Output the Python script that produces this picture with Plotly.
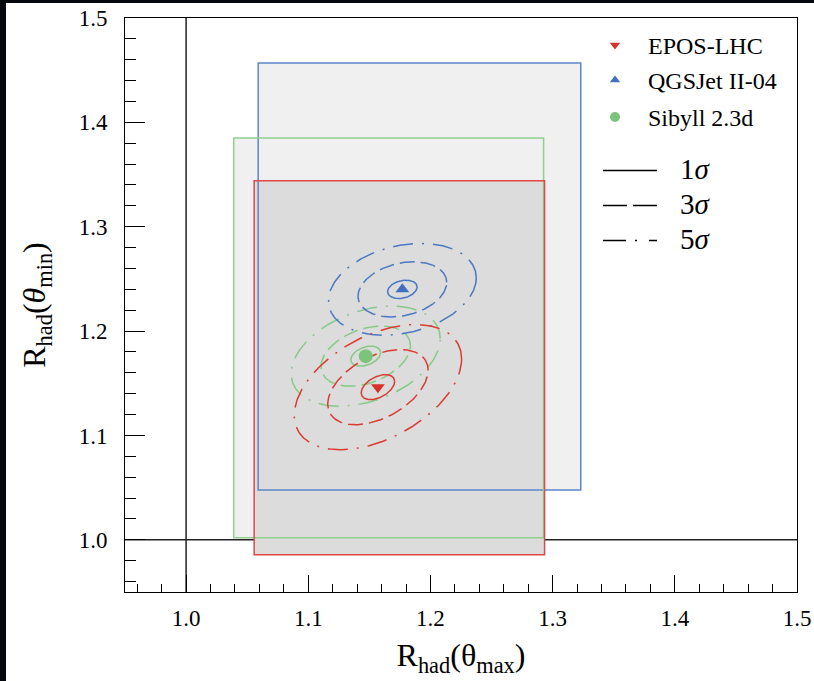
import numpy as np
import plotly.graph_objects as go

# ---------------- data ----------------
models = ["EPOS-LHC", "QGSJet II-04", "Sibyll 2.3d"]
center_x = [1.1570, 1.1770, 1.1470]      # R_had(theta_max) best fit
center_y = [1.1463, 1.2400, 1.1760]      # R_had(theta_min) best fit
sigma_x = [0.0137, 0.0121, 0.0122]       # 1 sigma along x
sigma_y = [0.0120, 0.0088, 0.0096]       # 1 sigma along y
rho = [0.45, 0.25, 0.35]                 # correlation
box_x0 = [1.0557, 1.0590, 1.0390]
box_x1 = [1.2934, 1.3230, 1.2926]
box_y0 = [0.9857, 1.0478, 1.0019]
box_y1 = [1.3440, 1.4570, 1.3850]
sigma_levels = [1, 3, 5]
sigma_labels = ["1<i>σ</i>", "3<i>σ</i>", "5<i>σ</i>"]
tick_vals = [1.0, 1.1, 1.2, 1.3, 1.4, 1.5]
tick_text = ["1.0", "1.1", "1.2", "1.3", "1.4", "1.5"]

# ---------------- styles ----------------
FONT = "Liberation Serif, Times New Roman, serif"
marker_colors = ["#d8302a", "#3f6fbf", "#7cc47c"]
line_colors = ["#dc3a30", "#4a78c2", "#86c986"]
edge_colors = ["#e04848", "#5b86c8", "#8fd08f"]
box_fills = ["#dcdcdc", "#f0f0f0", "#f0f0f0"]
symbols = ["triangle-down", "triangle-up", "circle"]
msizes = [12, 12, 14]
dashes = ["solid", "15px,6px", "20px,9px,2px,9px"]
legend_dashes = ["solid", "24px,6px", "23px,9px,2px,12px"]

fig = go.Figure()

# ---------------- boxes: fills first, then edges ----------------
shapes = []
fill_order = [1, 2, 0]
for i in fill_order:
    shapes.append(dict(type="rect", xref="x", yref="y", layer="below",
                       x0=box_x0[i], x1=box_x1[i], y0=box_y0[i], y1=box_y1[i],
                       fillcolor=box_fills[i], line=dict(width=0)))
for i in fill_order:
    shapes.append(dict(type="rect", xref="x", yref="y", layer="below",
                       x0=box_x0[i], x1=box_x1[i], y0=box_y0[i], y1=box_y1[i],
                       fillcolor="rgba(0,0,0,0)", line=dict(color=edge_colors[i], width=1.5)))
# reference lines at 1.0
shapes.append(dict(type="line", xref="x", yref="paper", x0=1.0, x1=1.0, y0=0, y1=1,
                   layer="below", line=dict(color="#222222", width=1.5)))
shapes.append(dict(type="line", xref="paper", yref="y", x0=0, x1=1, y0=1.0, y1=1.0,
                   layer="below", line=dict(color="#222222", width=1.5)))

# ---------------- contours ----------------
t = np.linspace(0, 2 * np.pi, 361)
for i in [2, 1, 0]:
    for k, d in zip(sigma_levels, dashes):
        ex = center_x[i] + k * sigma_x[i] * np.cos(t)
        ey = center_y[i] + k * sigma_y[i] * (rho[i] * np.cos(t) + np.sqrt(1 - rho[i] ** 2) * np.sin(t))
        fig.add_trace(go.Scatter(x=ex, y=ey, mode="lines", showlegend=False, hoverinfo="skip",
                                 line=dict(color=line_colors[i], width=1.5, dash=d)))

for i in [2, 1, 0]:
    fig.add_trace(go.Scatter(x=[center_x[i]], y=[center_y[i]], mode="markers", name=models[i],
                             showlegend=False,
                             marker=dict(symbol=symbols[i], size=msizes[i], color=marker_colors[i],
                                         line=dict(width=0))))

# ---------------- hand-built legend ----------------
H_PLOT = 574.0
W_PLOT = 672.0
def px_x(p):
    return (p - 125) / W_PLOT
def px_y(p):
    return (592 - p) / H_PLOT

legend_marker_y = [45, 80, 117]
annotations = []
for i in range(3):
    fig.add_trace(go.Scatter(x=[px_x(615)], y=[px_y(legend_marker_y[i])], xaxis="x2", yaxis="y2",
                             mode="markers", showlegend=False, hoverinfo="skip", cliponaxis=False,
                             marker=dict(symbol=symbols[i], size=9 if i < 2 else 10,
                                         color=marker_colors[i], line=dict(width=0))))
    annotations.append(dict(xref="paper", yref="paper", x=px_x(646), y=px_y(legend_marker_y[i] + 1),
                            xanchor="left", yanchor="middle", showarrow=False, text=models[i],
                            font=dict(family=FONT, size=24, color="black")))

sig_line_y = [170.5, 205.5, 240.5]
sig_text_y = [169, 204, 239]
for j in range(3):
    shapes.append(dict(type="line", xref="paper", yref="paper", x0=px_x(603), x1=px_x(657),
                       y0=px_y(sig_line_y[j]), y1=px_y(sig_line_y[j]),
                       line=dict(color="black", width=1.5, dash=legend_dashes[j])))
    annotations.append(dict(xref="paper", yref="paper", x=px_x(678), y=px_y(sig_text_y[j]),
                            xanchor="left", yanchor="middle", showarrow=False, text=sigma_labels[j],
                            font=dict(family=FONT, size=29, color="black")))

# dark image border strips of the reference (left and top edges)
shapes.append(dict(type="rect", xref="paper", yref="paper", layer="above",
                   x0=px_x(0), x1=px_x(6), y0=px_y(681), y1=px_y(0),
                   fillcolor="#05080c", line=dict(width=0)))
shapes.append(dict(type="rect", xref="paper", yref="paper", layer="above",
                   x0=px_x(0), x1=px_x(814), y0=px_y(3), y1=px_y(0),
                   fillcolor="#05080c", line=dict(width=0)))

axis_common = dict(showgrid=False, zeroline=False, showline=True, linecolor="black", linewidth=1,
                   mirror=True, ticks="inside", tickcolor="black", tickwidth=1,
                   tickvals=tick_vals, ticktext=tick_text, automargin=False,
                   tickfont=dict(family=FONT, size=23, color="black"))

fig.update_layout(
    width=814, height=681, autosize=False,
    margin=dict(l=125, r=17, t=18, b=89, autoexpand=False),
    paper_bgcolor="white", plot_bgcolor="white",
    font=dict(family=FONT, color="black"),
    xaxis=dict(range=[0.95, 1.5], ticklen=17,
               minor=dict(dtick=0.02, tick0=1.0, ticks="inside", ticklen=8, tickcolor="black", tickwidth=1),
               ticklabelstandoff=5,
               title=dict(text="R<sub>had</sub>(θ<sub>max</sub>)", standoff=14,
                          font=dict(family=FONT, size=32, color="black")),
               **axis_common),
    yaxis=dict(range=[0.95, 1.5], ticklen=20,
               minor=dict(dtick=0.02, tick0=1.0, ticks="inside", ticklen=11, tickcolor="black", tickwidth=1),
               ticklabelstandoff=12,
               title=dict(text="R<sub>had</sub>(<i>θ</i><sub>min</sub>)", standoff=23,
                          font=dict(family=FONT, size=32, color="black")),
               **axis_common),
    xaxis2=dict(range=[0, 1], overlaying="x", visible=False, fixedrange=True),
    yaxis2=dict(range=[0, 1], overlaying="y", visible=False, fixedrange=True),
    shapes=shapes,
    annotations=annotations,
    showlegend=False,
)

fig.write_html("out.html", config={"displayModeBar": False},
               post_script="document.body.style.margin='0';document.body.style.overflow='hidden';")
